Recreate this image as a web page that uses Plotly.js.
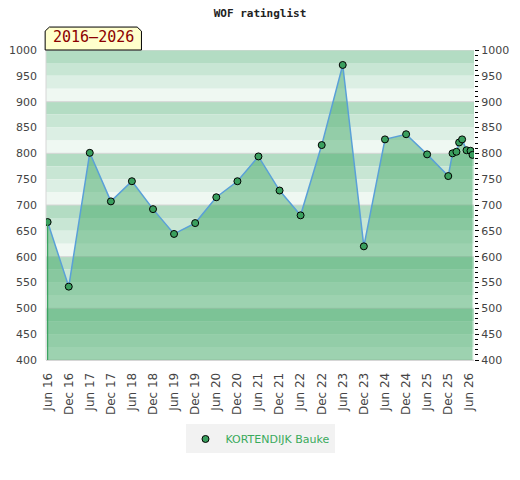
<!DOCTYPE html>
<html>
<head>
<meta charset="utf-8">
<script src="https://cdn.plot.ly/plotly-3.0.1.min.js"></script>
<style>html,body{margin:0;padding:0;background:#fff;}#chart{width:520px;height:480px;}</style>
</head>
<body>
<div id="chart"></div>
<script>
// ---- data ----
const playerName = "KORTENDIJK Bauke";
const ratingDates = [
  "2016-06-01","2016-12-01","2017-06-01","2017-12-01","2018-06-01","2018-12-01",
  "2019-06-01","2019-12-01","2020-06-01","2020-12-01","2021-06-01","2021-12-01",
  "2022-06-01","2022-12-01","2023-06-01","2023-12-01","2024-06-01","2024-12-01",
  "2025-06-01","2025-12-01","2026-01-07","2026-02-10","2026-03-05","2026-03-31",
  "2026-05-08","2026-06-12","2026-06-29"
];
const ratingValues = [
  667, 542, 801, 707, 746, 692,
  644, 665, 715, 746, 794, 728,
  680, 816, 971, 620, 827, 837,
  798, 756, 800, 803, 821, 827,
  806, 805, 797
];
const tickDates = [
  "2016-06-01","2016-12-01","2017-06-01","2017-12-01","2018-06-01","2018-12-01",
  "2019-06-01","2019-12-01","2020-06-01","2020-12-01","2021-06-01","2021-12-01",
  "2022-06-01","2022-12-01","2023-06-01","2023-12-01","2024-06-01","2024-12-01",
  "2025-06-01","2025-12-01","2026-06-01"
];
const tickLabels = [
  "Jun 16","Dec 16","Jun 17","Dec 17","Jun 18","Dec 18","Jun 19","Dec 19",
  "Jun 20","Dec 20","Jun 21","Dec 21","Jun 22","Dec 22","Jun 23","Dec 23",
  "Jun 24","Dec 24","Jun 25","Dec 25","Jun 26"
];
const periodLabel = "2016–2026";
const chartTitle = "WOF ratinglist";
const yMin = 400, yMax = 1000;

// ---- styling ----
const bandColors = ["#b3dcc3", "#c8e6d4", "#dcefe4", "#eff8f2"];
const shapes = [];
for (let top = yMax; top > yMin; top -= 25) {
  const idx = ((yMax - top) / 25) % 4;
  shapes.push({type:"rect", xref:"paper", yref:"y", x0:0, x1:1, y0:top-25, y1:top,
    fillcolor:bandColors[idx], line:{width:0}, layer:"below"});
}
for (let g = yMin; g <= yMax; g += 100) {
  shapes.push({type:"line", xref:"paper", yref:"y", x0:0, x1:1, y0:g, y1:g,
    line:{color:"#d6d6d6", width:1}, layer:"below"});
}
shapes.push({type:"line", xref:"paper", yref:"paper", x0:0, x1:0, y0:0, y1:1,
  line:{color:"#d6d6d6", width:1}, layer:"below"});
// label box with clipped corners (paper coords)
shapes.push({type:"path", xref:"paper", yref:"paper", layer:"above",
  path:"M -0.002,1 L -0.002,1.061 L 0.008,1.074 L 0.213,1.074 L 0.223,1.061 L 0.223,1 Z",
  fillcolor:"#ffffcc", line:{color:"#000000", width:1}});

const markerStyle = {size:7, color:"#3a9f5e", line:{color:"#000000", width:1}};
const traces = [
  {
    x: ratingDates, y: ratingValues, type:"scatter", mode:"lines",
    name: playerName, fill:"tozeroy", fillcolor:"rgba(57,164,95,0.45)",
    line:{color:"#5aa0d8", width:1.5}, showlegend:false, hoverinfo:"skip"
  },
  {
    x: [ratingDates[0], ratingDates[0]], y: [yMin, ratingValues[0]],
    type:"scatter", mode:"lines", yaxis:"y2", showlegend:false,
    line:{color:"#3aa35f", width:1.2}, hoverinfo:"skip"
  },
  {
    x: ratingDates, y: ratingValues, type:"scatter", mode:"markers",
    name: playerName, marker: markerStyle, showlegend:true, hoverinfo:"x+y"
  }
];

const tickFont = {family:"DejaVu Sans, sans-serif", size:11, color:"#444"};
const xTickFont = {family:"DejaVu Sans, sans-serif", size:12, color:"#444"};
const layout = {
  width:520, height:480,
  margin:{l:46, r:46, t:50, b:120},
  paper_bgcolor:"#ffffff", plot_bgcolor:"rgba(0,0,0,0)",
  title:{text:chartTitle, x:0.5, xanchor:"center", y:0.98, yanchor:"top",
    font:{family:"DejaVu Sans Mono, monospace", size:11, color:"#222", weight:"bold"}},
  showlegend:true,
  legend:{orientation:"h", x:0.5, xanchor:"center", y:-0.208, yanchor:"top",
    bgcolor:"#f2f2f2", font:{family:"DejaVu Sans, sans-serif", size:11, color:"#3aaa5c"},
    itemwidth:30, tracegroupgap:0},
  xaxis:{type:"date", range:["2016-05-18","2026-07-12"], tickmode:"array",
    tickvals:tickDates, ticktext:tickLabels, tickangle:-90, tickfont:xTickFont,
    showgrid:false, zeroline:false, showline:true, linecolor:"#d6d6d6", linewidth:1,
    ticks:"", ticklabelstandoff:7, fixedrange:true},
  yaxis:{range:[yMin, yMax], dtick:50, tick0:0, tickfont:tickFont, showgrid:false,
    zeroline:false, ticks:"", showline:false, ticklabelstandoff:8, fixedrange:true},
  yaxis2:{range:[yMin, yMax], dtick:50, tick0:0, overlaying:"y", side:"right",
    tickfont:tickFont, showgrid:false, zeroline:false, showline:false,
    ticks:"outside", ticklen:4, tickcolor:"#000", tickwidth:1, ticklabelstandoff:0,
    minor:{dtick:10, ticks:"outside", ticklen:3, tickcolor:"#000", tickwidth:1},
    fixedrange:true},
  shapes: shapes,
  annotations:[{
    xref:"paper", yref:"paper", x:0.011, y:1.005, xanchor:"left", yanchor:"bottom",
    text:periodLabel, showarrow:false,
    font:{family:"DejaVu Sans Mono, monospace", size:15, color:"#8b0000"}
  }]
};

Plotly.newPlot("chart", traces, layout, {displayModeBar:false, staticPlot:true});
</script>
</body>
</html>
